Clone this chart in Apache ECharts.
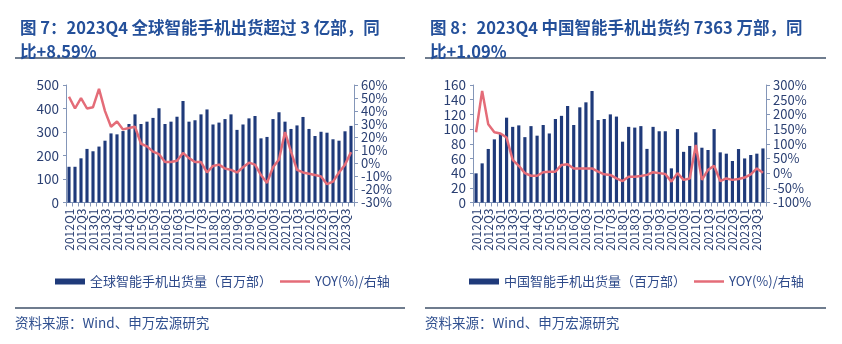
<!DOCTYPE html>
<html><head><meta charset="utf-8">
<script src="https://cdn.jsdelivr.net/npm/echarts@6/dist/echarts.min.js"></script>
<style>html,body{margin:0;padding:0;background:#fff}#c{width:842px;height:344px}</style>
</head><body><div id="c"></div>
<script>
const categories = [];
for (let y = 2012; y <= 2023; y++) for (let q = 1; q <= 4; q++) categories.push(y + 'Q' + q);

const globalShip = [152,152,188,228,218,238,263,294,290,304,334,375,334,344,360,401,334,344,365,432,344,350,375,396,
  332,340,355,375,309,332,358,368,273,279,355,384,344,313,328,364,313,283,301,297,269,263,303,326];
const globalYoy = [51,42,50,42,43,57,40,28,32,26,27,28,15,13,9,7,1,1,2,8,4,1,1,-7,
  -2,-1,-4,-5,-7,-3,0.5,-1,-9,-15,-3,3,24,9,-5,-7,-8,-9,-10,-16,-14,-7,-1,8.59];
const chinaShip = [39.7,53.3,72.9,86,94.2,115.5,103,105,89,104,91,105.5,94,113.7,118,131.4,105.5,129.6,136.4,151.8,112.3,113.7,120,117,
  82.8,103,102,104,73,103,97,97,46.5,100,69,77,95.5,74.6,71.5,100,68.3,66.5,56.5,72.8,60,64.7,66.5,73.6];
const chinaYoy = [139,280,166,139,135,121,45,25,0,-9,-9,3,5,5,28,30,16,16,16,16,5,-4,-6,-18,
  -27,-12,-12,-10,-6,3,0,-3,-29,0,-23,-18,96,-23,11,25,-27,-18,-23,-20,-15,-4,16,1.09];

const titles = ['图 7：2023Q4 全球智能手机出货超过 3 亿部，同\n比+8.59%', '图 8：2023Q4 中国智能手机出货约 7363 万部，同\n比+1.09%'];
const barNames = ['全球智能手机出货量（百万部）', '中国智能手机出货量（百万部）'];
const yoyName = 'YOY(%)/右轴';
const source = '资料来源：Wind、申万宏源研究';

const FONT = '"Noto Sans CJK SC", "Liberation Sans", sans-serif';
const BAR = '#1f3a7a', LINE = '#e46c78', AX = '#8496b8', LBL = '#2a3f72', TITLE = '#24509a';

const chart = echarts.init(document.getElementById('c'), null, {renderer: 'canvas'});

const panels = [
  {x0: 15, x1: 405, gl: 66, gw: 288, leftMax: 500, leftInt: 100, rMin: -30, rMax: 60, rInt: 10, bars: globalShip, yoy: globalYoy, legX: 50},
  {x0: 425, x1: 826, gl: 473, gw: 293, leftMax: 160, leftInt: 20, rMin: -100, rMax: 300, rInt: 50, bars: chinaShip, yoy: chinaYoy, legX: 464}
];

const option = {
  animation: false,
  textStyle: {fontFamily: FONT},
  title: [], grid: [], xAxis: [], yAxis: [], series: [], legend: [], graphic: []
};

panels.forEach((p, k) => {
  option.title.push({text: titles[k], left: p.x0, top: 11,
    textStyle: {fontFamily: FONT, fontSize: 16.5, fontWeight: 'bold', color: TITLE, lineHeight: 24}});
  option.grid.push({left: p.gl, width: p.gw, top: 85, height: 117.5});
  option.xAxis.push({type: 'category', gridIndex: k, data: categories, boundaryGap: true,
    axisLine: {lineStyle: {color: AX, width: 1}},
    axisTick: {show: true, interval: 0, length: 4, lineStyle: {color: AX}},
    axisLabel: {interval: 1, rotate: 90, fontSize: 12, color: LBL, margin: 6, fontFamily: FONT}});
  option.yAxis.push({type: 'value', gridIndex: k, min: 0, max: p.leftMax, interval: p.leftInt,
    axisLine: {show: true, lineStyle: {color: AX}}, axisTick: {show: true, length: 3, lineStyle: {color: AX}},
    splitLine: {show: false},
    axisLabel: {interval: 0, fontSize: 13.5, color: LBL, margin: 7, fontFamily: FONT, showMinLabel: true, showMaxLabel: true, hideOverlap: false}});
  option.yAxis.push({type: 'value', gridIndex: k, position: 'right', min: p.rMin, max: p.rMax, interval: p.rInt,
    axisLine: {show: true, lineStyle: {color: AX}}, axisTick: {show: true, length: 4, lineStyle: {color: AX}},
    splitLine: {show: false},
    axisLabel: {interval: 0, fontSize: 13, color: LBL, margin: 7, formatter: '{value}%', fontFamily: FONT, showMinLabel: true, showMaxLabel: true, hideOverlap: false}});
  option.series.push({type: 'bar', name: barNames[k], xAxisIndex: k, yAxisIndex: 2 * k, data: p.bars,
    barWidth: '52%', itemStyle: {color: BAR}});
  option.series.push({type: 'line', name: yoyName, xAxisIndex: k, yAxisIndex: 2 * k + 1, data: p.yoy,
    symbol: 'none', showSymbol: false, lineStyle: {color: LINE, width: 2.5}, itemStyle: {color: LINE}});
  option.legend.push({left: p.legX, top: 270, itemWidth: 30, itemHeight: 6, itemGap: 8,
    textStyle: {fontSize: 13, color: '#2e4a8a', fontFamily: FONT},
    data: [{name: barNames[k], icon: 'rect'},
           {name: yoyName, icon: 'path://M0 0 L30 0 L30 2.5 L0 2.5 Z', itemStyle: {color: LINE}}]});
  option.graphic.push({type: 'line', shape: {x1: p.x0, y1: 58, x2: p.x1, y2: 58}, style: {stroke: '#3f5068', lineWidth: 1.5}});
  option.graphic.push({type: 'line', shape: {x1: p.x0, y1: 308, x2: p.x1, y2: 308}, style: {stroke: '#3f5068', lineWidth: 1.5}});
  option.graphic.push({type: 'text', left: p.x0, top: 316, style: {text: source, fontSize: 13.5, fill: '#2f4f8f', fontFamily: FONT}});
});

chart.setOption(option);
</script></body></html>
